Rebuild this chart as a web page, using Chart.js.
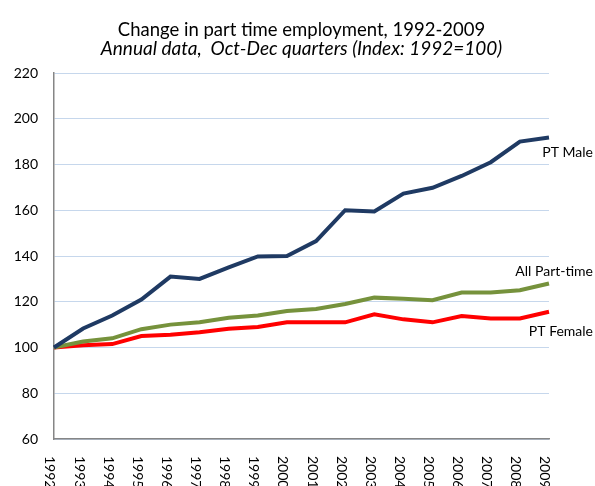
<!DOCTYPE html>
<html>
<head>
<meta charset="utf-8">
<script src="https://cdn.jsdelivr.net/npm/chart.js@4.4.1/dist/chart.umd.min.js"></script>
<style>
html,body{margin:0;padding:0;background:#fff;}
#wrap{width:595px;height:486px;}
</style>
</head>
<body>
<div id="wrap"><canvas id="c" width="595" height="486"></canvas></div>
<script>
const years = ['1992','1993','1994','1995','1996','1997','1998','1999','2000','2001','2002','2003','2004','2005','2006','2007','2008','2009'];
const ptMale = [100,108.3,114,121,131,130,135,139.8,140,146.5,160,159.5,167.3,169.8,175,181,190,191.8];
const allPartTime = [100,102.6,104,108,110,111,113,114,116,116.8,119,121.8,121.3,120.7,124,124,125,128];
const ptFemale = [100,101,101.5,105,105.6,106.7,108.2,109,111,111,111,114.5,112.3,111,113.8,112.7,112.7,115.6];
const seriesNames = ['PT Male','All Part-time','PT Female'];
const yTicks = [60,80,100,120,140,160,180,200,220];

const FONT = 'Lato, "Open Sans", sans-serif';

const endLabels = {
  id: 'endLabels',
  afterDatasetsDraw(chart) {
    const ctx = chart.ctx;
    const offsets = [15, -12, 20];
    ctx.save();
    ctx.font = '14px ' + FONT;
    ctx.fillStyle = '#000';
    ctx.textAlign = 'right';
    ctx.textBaseline = 'middle';
    chart.data.datasets.forEach((ds, i) => {
      const meta = chart.getDatasetMeta(i);
      const p = meta.data[meta.data.length - 1];
      ctx.fillText(ds.label, p.x + 44, p.y + offsets[i]);
    });
    ctx.restore();
  }
};

const xLabels = {
  id: 'xLabels',
  afterDraw(chart) {
    const ctx = chart.ctx;
    const xs = chart.scales.x;
    ctx.save();
    ctx.font = '14px ' + FONT;
    ctx.fillStyle = '#000';
    ctx.textAlign = 'left';
    ctx.textBaseline = 'middle';
    years.forEach((y, i) => {
      const x = xs.getPixelForValue(i);
      ctx.save();
      ctx.translate(x - 4, chart.chartArea.bottom + 17);
      ctx.rotate(Math.PI / 2);
      ctx.fillText(y, 0, 0);
      ctx.restore();
    });
    ctx.restore();
  }
};

new Chart(document.getElementById('c'), {
  type: 'line',
  data: {
    labels: years,
    datasets: [
      {label: seriesNames[0], data: ptMale, borderColor: '#1f3a63', borderWidth: 4, pointRadius: 0, tension: 0},
      {label: seriesNames[1], data: allPartTime, borderColor: '#76923c', borderWidth: 4, pointRadius: 0, tension: 0},
      {label: seriesNames[2], data: ptFemale, borderColor: '#ff0000', borderWidth: 4, pointRadius: 0, tension: 0}
    ]
  },
  options: {
    responsive: false,
    animation: false,
    devicePixelRatio: 1,
    layout: {padding: {left: 0, right: 46, top: 0, bottom: 47}},
    plugins: {
      legend: {display: false},
      tooltip: {enabled: false},
      title: {
        display: true,
        fullSize: false,
        text: 'Change in part time employment, 1992-2009',
        color: '#000',
        font: {family: FONT, size: 18.5, weight: 'normal', lineHeight: 1.0},
        padding: {top: 20.5, bottom: 0.5}
      },
      subtitle: {
        display: true,
        fullSize: false,
        text: 'Annual data,  Oct-Dec quarters (Index: 1992=100)',
        color: '#000',
        font: {family: FONT, size: 19, style: 'italic', weight: 'normal', lineHeight: 1.0},
        padding: {top: 0, bottom: 14.5}
      }
    },
    scales: {
      x: {
        type: 'category',
        offset: false,
        grid: {display: false, drawTicks: false},
        border: {display: true, color: '#868686', width: 1.5},
        ticks: {display: false}
      },
      y: {
        min: 60,
        max: 220,
        afterBuildTicks(scale) { scale.ticks = yTicks.map(v => ({value: v})); },
        afterFit(scale) { scale.width = 54; },
        grid: {color: '#c6d7ec', lineWidth: 1, drawTicks: false},
        border: {display: true, color: '#868686', width: 1.5},
        ticks: {color: '#000', font: {family: FONT, size: 14}, padding: 16}
      }
    }
  },
  plugins: [endLabels, xLabels]
});
</script>
</body>
</html>
